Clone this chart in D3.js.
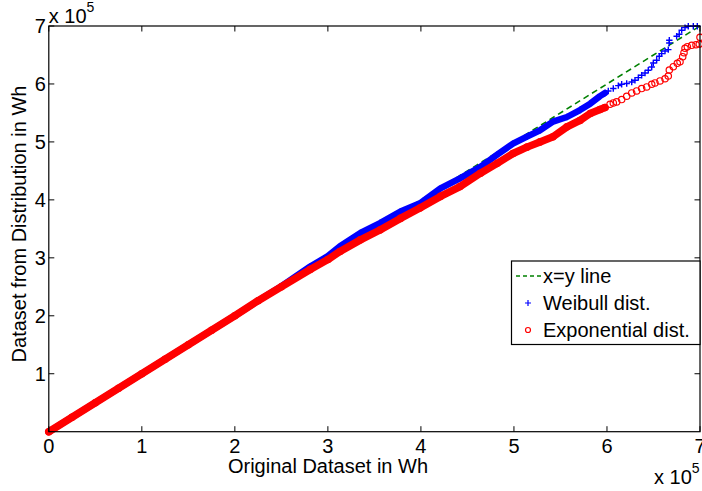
<!DOCTYPE html>
<html><head><meta charset="utf-8">
<script src="https://cdn.jsdelivr.net/npm/d3@7"></script>
<style>
body{margin:0;background:#fff}
svg{display:block}
text{font-family:"Liberation Sans",Arial,Helvetica,sans-serif;fill:#000}
</style>
</head><body>
<svg id="c" width="702" height="491"></svg>
<script>
// values in units of 10^5 Wh
const xTicks = [0,1,2,3,4,5,6,7];
const yTicks = [1,2,3,4,5,6,7];
const refLine = [0,7];
const legendLabels = ["x=y line","Weibull dist.","Exponential dist."];

const weibullX = [0,0.25,0.5,0.75,1.0,1.25,1.5,1.75,2.0,2.25,2.5,2.81,3.0,3.13,3.35,3.56,3.78,3.99,4.21,4.42,4.64,4.82,4.99,5.14,5.28,5.42,5.57,5.71,5.82,5.925,5.979,6.014,6.068,6.122,6.158,6.212,6.266,6.301,6.337,6.373,6.409,6.444,6.481,6.498,6.534,6.562,6.588,6.624,6.659,6.670,6.670,6.749,6.777,6.803,6.839,6.874,6.928,6.971];
const weibullY = [0,0.25,0.5,0.75,1.0,1.25,1.5,1.75,2.0,2.26,2.51,2.85,3.03,3.20,3.43,3.60,3.80,3.94,4.20,4.37,4.57,4.78,4.97,5.09,5.20,5.35,5.43,5.55,5.66,5.79,5.845,5.879,5.921,5.972,5.995,6.007,6.034,6.064,6.110,6.150,6.190,6.236,6.293,6.362,6.409,6.478,6.524,6.569,6.593,6.707,6.753,6.822,6.857,6.926,6.972,6.995,6.995,6.995];

const expX = [0,0.25,0.5,0.75,1.0,1.25,1.5,1.75,2.0,2.25,2.5,2.81,3.0,3.13,3.35,3.56,3.78,3.99,4.21,4.42,4.64,4.82,4.99,5.14,5.28,5.42,5.57,5.71,5.82,5.925,5.979,6.033,6.068,6.104,6.158,6.212,6.266,6.319,6.373,6.427,6.481,6.516,6.570,6.624,6.659,6.670,6.713,6.756,6.785,6.814,6.828,6.839,6.864,6.911,6.957,6.992,7.0];
const expY = [0,0.25,0.5,0.75,1.0,1.25,1.5,1.75,2.0,2.26,2.5,2.80,2.97,3.11,3.31,3.48,3.68,3.86,4.06,4.23,4.46,4.63,4.80,4.91,5.00,5.09,5.26,5.37,5.49,5.559,5.593,5.650,5.672,5.690,5.731,5.788,5.845,5.879,5.921,5.948,5.995,6.017,6.052,6.090,6.137,6.241,6.298,6.356,6.384,6.470,6.539,6.615,6.643,6.667,6.677,6.689,6.805];

const denseLimit = 6.0; // markers overlap into a solid band up to here

const L = 48.8, R = 700, T = 26, B = 431.7;
const x = d3.scaleLinear().domain([0,7]).range([L,R]);
const y = d3.scaleLinear().domain([0,7]).range([B,T]);
const svg = d3.select("#c");
const FS = 20;

const weibull = weibullX.map((v,i)=>({x:v,y:weibullY[i]}));
const expo = expX.map((v,i)=>({x:v,y:expY[i]}));

// x=y reference line
svg.append("line")
  .attr("x1",x(refLine[0])).attr("y1",y(refLine[0]))
  .attr("x2",x(refLine[1])).attr("y2",y(refLine[1]))
  .attr("stroke","#008000").attr("stroke-width",1.6).attr("stroke-dasharray","6,4");

const line = d3.line().x(d=>x(d.x)).y(d=>y(d.y));

function plus(g, pts, color){
  const s = 3.2;
  g.selectAll("path.m").data(pts).enter().append("path")
    .attr("d", d=>`M${x(d.x)-s},${y(d.y)}H${x(d.x)+s}M${x(d.x)},${y(d.y)-s}V${y(d.y)+s}`)
    .attr("stroke",color).attr("stroke-width",1.4).attr("fill","none");
}
function circ(g, pts, color){
  g.selectAll("circle").data(pts).enter().append("circle")
    .attr("cx",d=>x(d.x)).attr("cy",d=>y(d.y)).attr("r",3.2)
    .attr("stroke",color).attr("stroke-width",1.2).attr("fill","none");
}

const gW = svg.append("g");
gW.append("path").datum(weibull.filter(d=>d.x<=denseLimit)).attr("d",line)
  .attr("fill","none").attr("stroke","#0000ff").attr("stroke-width",6.5)
  .attr("stroke-linecap","round").attr("stroke-linejoin","round");
plus(gW, weibull, "#0000ff");

const gE = svg.append("g");
gE.append("path").datum(expo.filter(d=>d.x<=denseLimit)).attr("d",line)
  .attr("fill","none").attr("stroke","#ff0000").attr("stroke-width",7.5)
  .attr("stroke-linecap","round").attr("stroke-linejoin","round");
circ(gE, expo, "#ff0000");

// axes box
const ax = svg.append("g");
ax.append("rect").attr("x",L).attr("y",T).attr("width",R-L).attr("height",B-T)
  .attr("fill","none").attr("stroke","#000").attr("stroke-width",1.2);
const tk = 5.5;
xTicks.forEach(t=>{
  ax.append("line").attr("x1",x(t)).attr("x2",x(t)).attr("y1",B).attr("y2",B-tk).attr("stroke","#000").attr("stroke-width",1);
  ax.append("line").attr("x1",x(t)).attr("x2",x(t)).attr("y1",T).attr("y2",T+tk).attr("stroke","#000").attr("stroke-width",1);
  ax.append("text").attr("x",x(t)).attr("y",B+21).attr("text-anchor","middle").attr("font-size",FS).text(t);
});
yTicks.forEach(t=>{
  ax.append("line").attr("x1",L).attr("x2",L+tk).attr("y1",y(t)).attr("y2",y(t)).attr("stroke","#000").attr("stroke-width",1);
  ax.append("line").attr("x1",R).attr("x2",R-tk).attr("y1",y(t)).attr("y2",y(t)).attr("stroke","#000").attr("stroke-width",1);
  ax.append("text").attr("x",L-3).attr("y",y(t)+7).attr("text-anchor","end").attr("font-size",FS).text(t);
});

// exponent labels
const e1 = svg.append("text").attr("x",L).attr("y",23).attr("font-size",FS);
e1.append("tspan").text("x 10");
e1.append("tspan").attr("font-size",14).attr("dy",-11).text("5");
const e2 = svg.append("text").attr("x",654).attr("y",484).attr("font-size",FS);
e2.append("tspan").text("x 10");
e2.append("tspan").attr("font-size",14).attr("dy",-11).text("5");

// axis labels
svg.append("text").attr("x",328).attr("y",473).attr("text-anchor","middle").attr("font-size",FS).text("Original Dataset in Wh");
svg.append("text").attr("transform",`translate(26,224) rotate(-90)`).attr("text-anchor","middle").attr("font-size",FS).text("Dataset from Distribution in Wh");

// legend
const lg = svg.append("g");
lg.append("rect").attr("x",511.5).attr("y",261).attr("width",188.5).attr("height",83.5)
  .attr("fill","#fff").attr("stroke","#000").attr("stroke-width",1.2);
const rows = [276, 303, 330];
lg.append("line").attr("x1",516).attr("x2",541).attr("y1",rows[0]).attr("y2",rows[0])
  .attr("stroke","#008000").attr("stroke-width",1.6).attr("stroke-dasharray","4,3");
lg.append("path").attr("d",`M525,${rows[1]}H531M528,${rows[1]-3}V${rows[1]+3}`).attr("stroke","#0000ff").attr("stroke-width",1.2);
lg.append("circle").attr("cx",528).attr("cy",rows[2]).attr("r",2.5).attr("fill","none").attr("stroke","#ff0000").attr("stroke-width",1.2);
legendLabels.forEach((s,i)=>{
  lg.append("text").attr("x",543).attr("y",rows[i]+7).attr("font-size",FS).text(s);
});
</script>
</body></html>
